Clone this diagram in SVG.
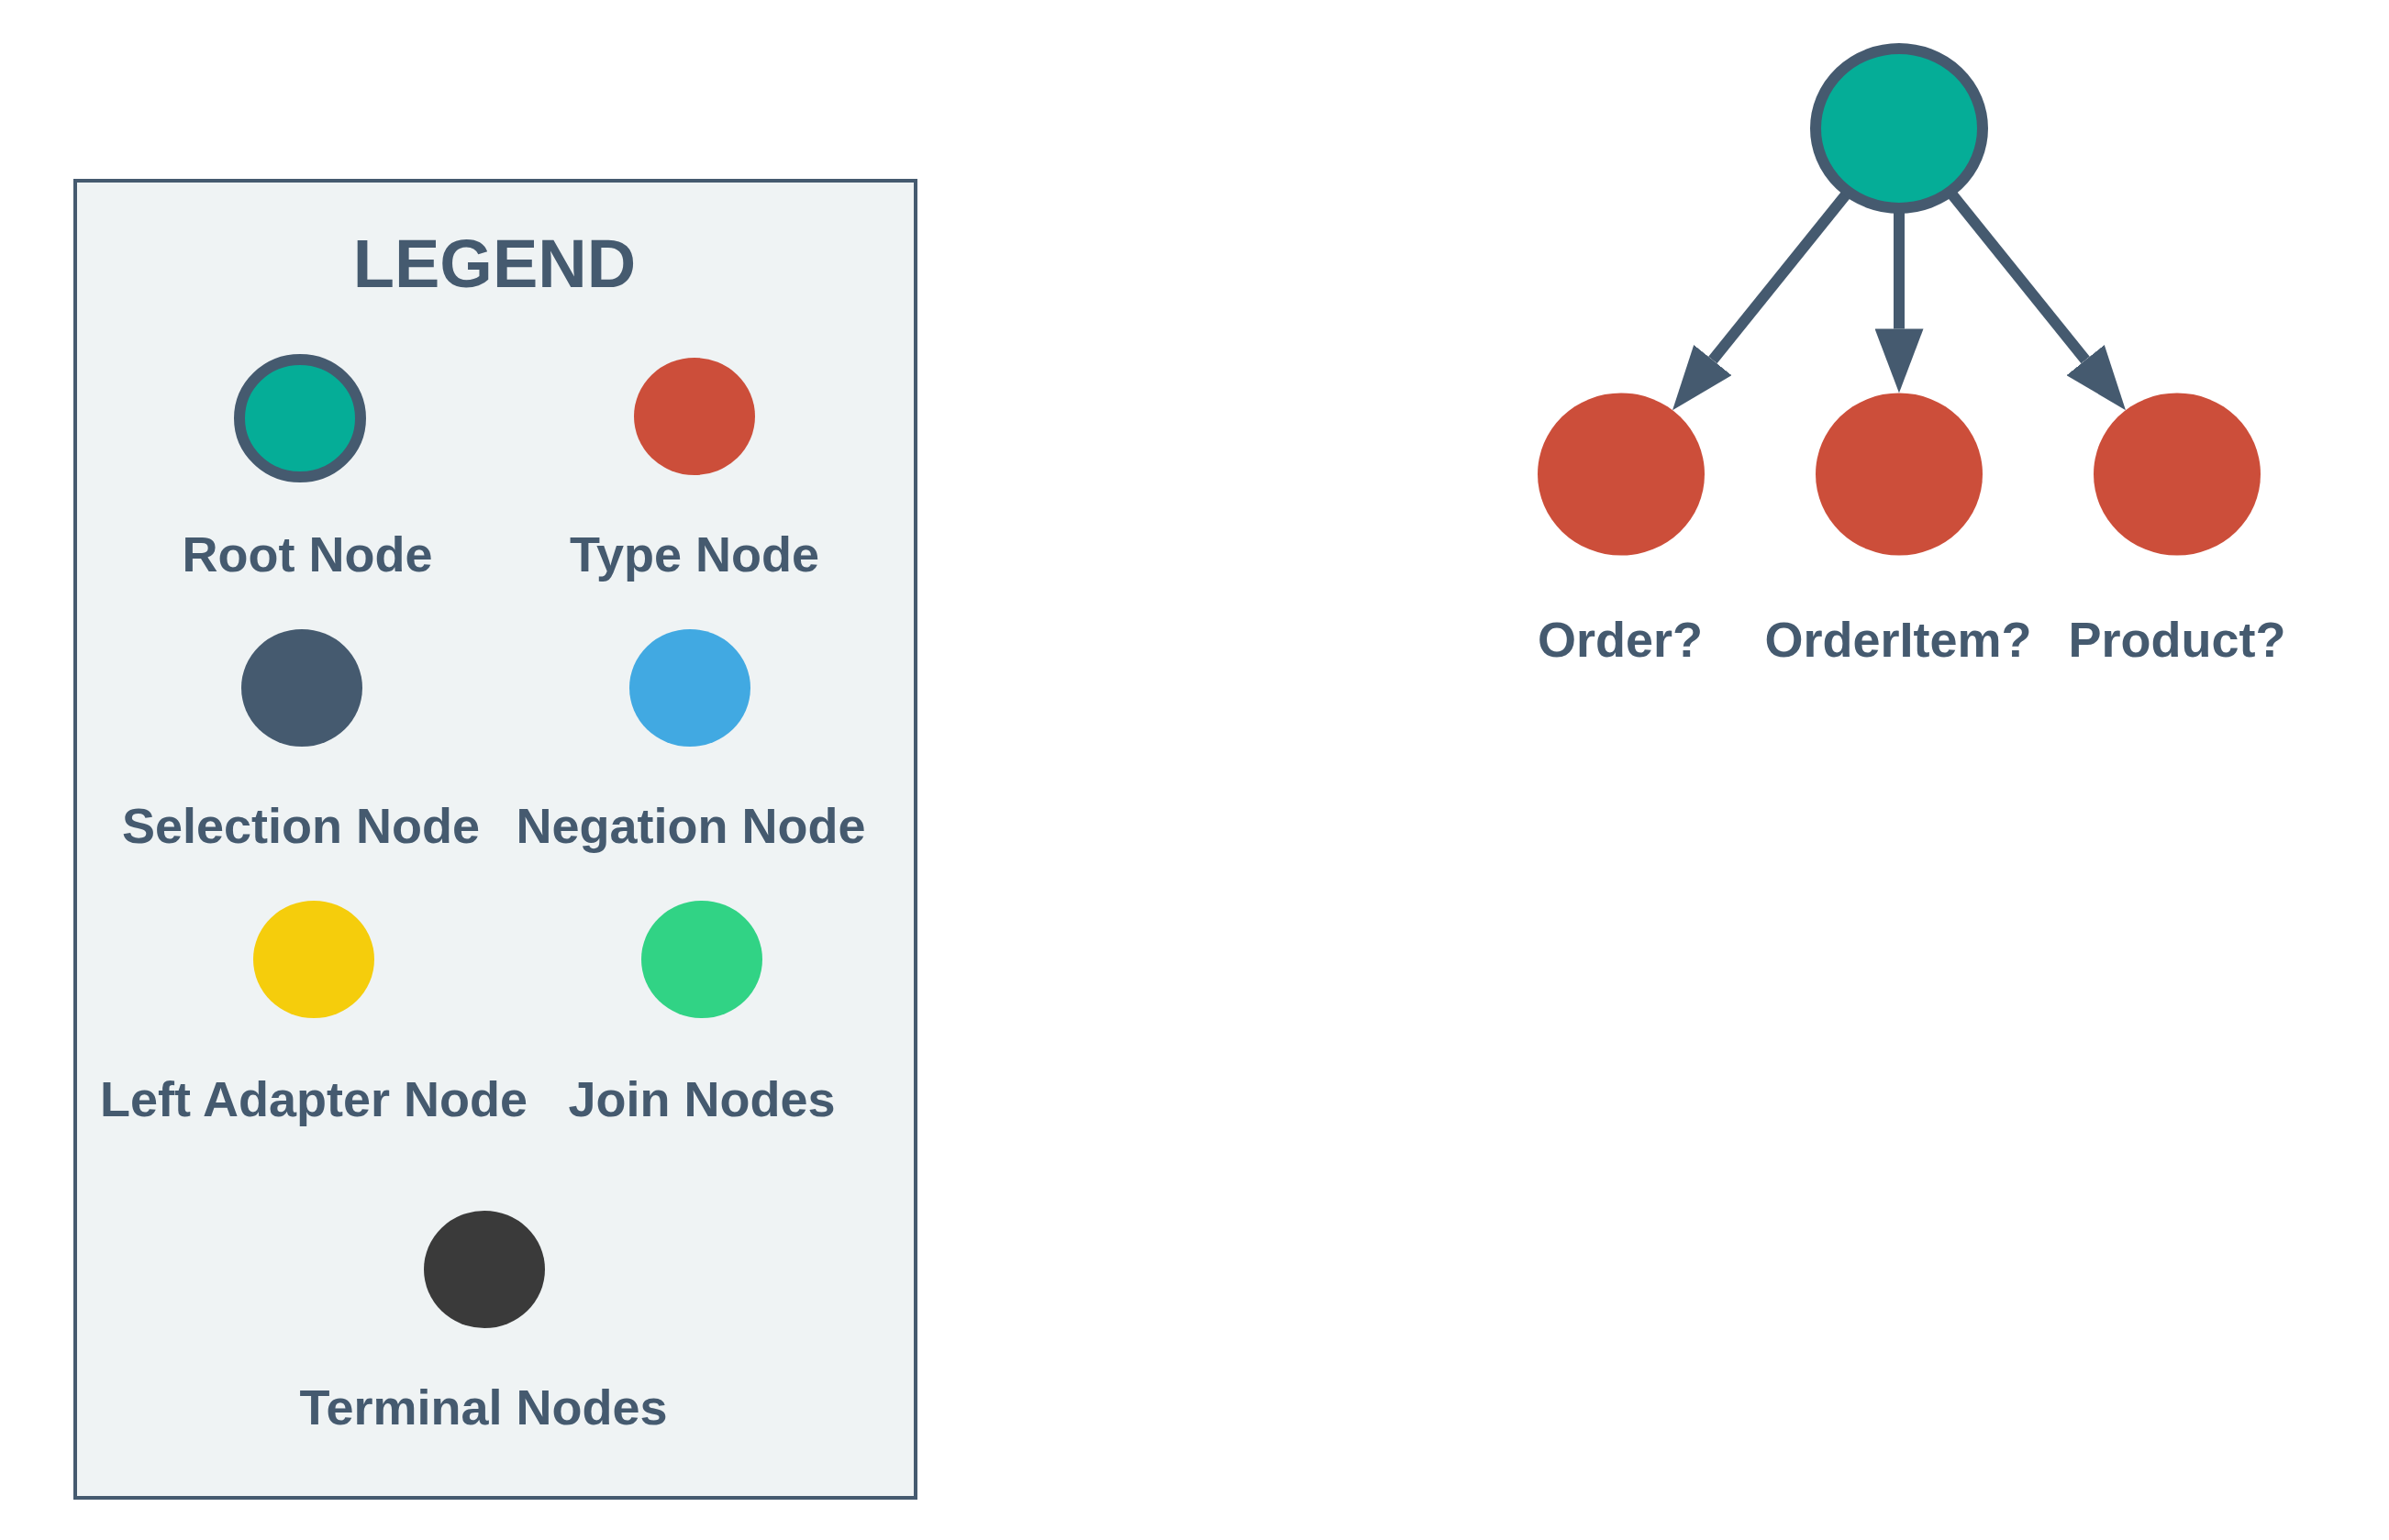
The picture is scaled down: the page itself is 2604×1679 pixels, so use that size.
<svg xmlns="http://www.w3.org/2000/svg" width="2604" height="1679" viewBox="0 0 2604 1679">
<style>
text{font-family:"Liberation Sans",Arial,sans-serif;font-weight:bold;fill:#455a6f;text-anchor:middle}
.lbl{font-size:54px}
.title{font-size:74px}
.root{fill:#05ad97;stroke:#455a6f;stroke-width:12}
.type{fill:#cc4e3a}
.edge{stroke:#455a6f;stroke-width:12;fill:none}
</style>
<defs>
<marker id="arr" markerUnits="userSpaceOnUse" markerWidth="70" markerHeight="53" refX="0" refY="26.5" orient="auto" viewBox="0 0 70 53">
<path d="M0,0 L70,26.5 L0,53 Z" fill="#455a6f"/>
</marker>
</defs>
<rect width="2604" height="1679" fill="#ffffff"/>
<g id="legend">
<rect x="82" y="197" width="916" height="1436" fill="#eff3f4" stroke="#455a6f" stroke-width="4"/>
<text class="title" x="539" y="313">LEGEND</text>
<g id="legend-root"><ellipse class="root" cx="327" cy="456" rx="66" ry="64"/><text class="lbl" x="335" y="623">Root Node</text></g>
<g id="legend-type"><ellipse class="type" cx="757" cy="454" rx="66" ry="64"/><text class="lbl" x="757" y="623">Type Node</text></g>
<g id="legend-selection"><ellipse fill="#455a6f" cx="329" cy="750" rx="66" ry="64"/><text class="lbl" x="328" y="919">Selection Node</text></g>
<g id="legend-negation"><ellipse fill="#41a9e2" cx="752" cy="750" rx="66" ry="64"/><text class="lbl" x="753" y="919">Negation Node</text></g>
<g id="legend-leftadapter"><ellipse fill="#f5cd0c" cx="342" cy="1046" rx="66" ry="64"/><text class="lbl" x="342" y="1217">Left Adapter Node</text></g>
<g id="legend-join"><ellipse fill="#31d385" cx="765" cy="1046" rx="66" ry="64"/><text class="lbl" x="765" y="1217">Join Nodes</text></g>
<g id="legend-terminal"><ellipse fill="#3a3a3a" cx="528" cy="1384" rx="66" ry="64"/><text class="lbl" x="527" y="1553">Terminal Nodes</text></g>
</g>
<g id="connectors">
<line class="edge" x1="2014.6" y1="209" x2="1866.9" y2="392.6" marker-end="url(#arr)"/>
<line class="edge" x1="2070" y1="227" x2="2070" y2="358.4" marker-end="url(#arr)"/>
<line class="edge" x1="2125.4" y1="209" x2="2273.1" y2="392.6" marker-end="url(#arr)"/>
</g>
<g id="root-node"><ellipse class="root" cx="2070" cy="140" rx="91" ry="87"/></g>
<g id="order-node"><ellipse class="type" cx="1767" cy="517" rx="91" ry="88.6"/><text class="lbl" x="1766" y="716">Order?</text></g>
<g id="orderitem-node"><ellipse class="type" cx="2070" cy="517" rx="91" ry="88.6"/><text class="lbl" x="2069" y="716">OrderItem?</text></g>
<g id="product-node"><ellipse class="type" cx="2373" cy="517" rx="91" ry="88.6"/><text class="lbl" x="2373" y="716">Product?</text></g>
</svg>
